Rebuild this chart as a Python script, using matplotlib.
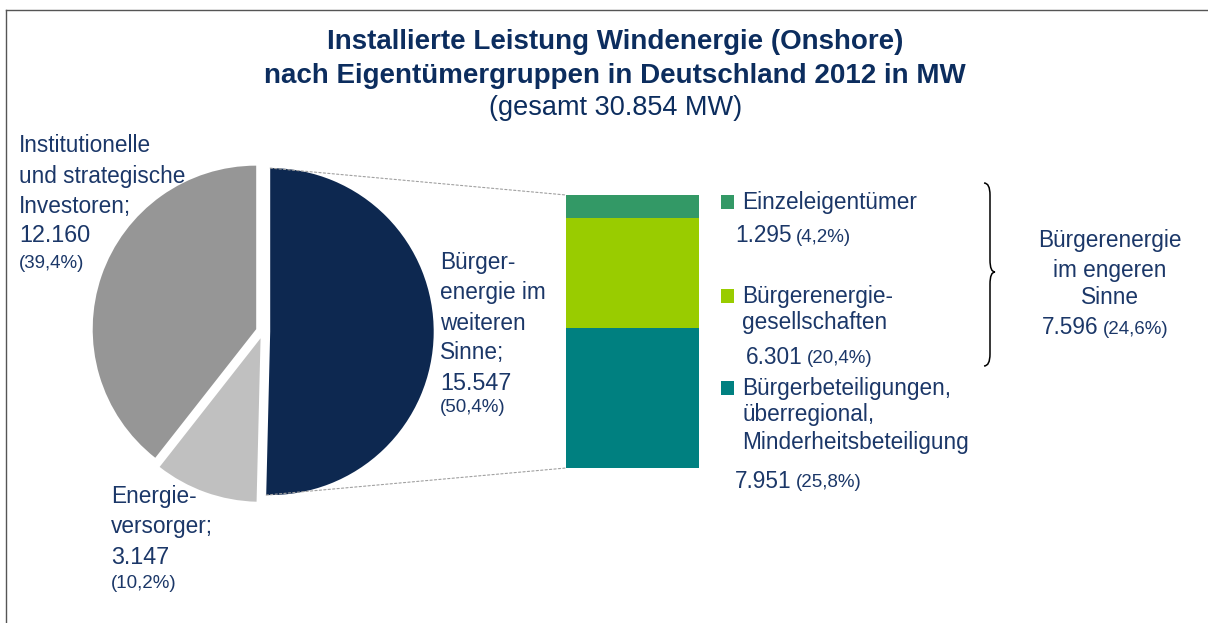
import matplotlib
matplotlib.use("Agg")
import matplotlib.pyplot as plt
from matplotlib.patches import ConnectionPatch, Rectangle, PathPatch
from matplotlib.path import Path
import numpy as np

plt.rcParams["font.family"] = ["Liberation Sans", "DejaVu Sans"]

# pie: owner groups (MW)
pie_labels = ["Bürgerenergie im weiteren Sinne", "Energieversorger",
              "Institutionelle und strategische Investoren"]
pie_values = [15547, 3147, 12160]
pie_pct = ["(50,4%)", "(10,2%)", "(39,4%)"]
pie_colors = ["#0d2850", "#c0c0c0", "#969696"]

# stacked bar: split of Bürgerenergie im weiteren Sinne (bottom -> top)
bar_labels = ["Bürgerbeteiligungen, überregional, Minderheitsbeteiligung",
              "Bürgerenergiegesellschaften", "Einzeleigentümer"]
bar_values = [7951, 6301, 1295]
bar_pct = ["(25,8%)", "(20,4%)", "(4,2%)"]
bar_colors = ["#008080", "#99cc00", "#339966"]

W, H = 1208, 623
TXT = "#1b3768"
TITLE = "#0c2d5e"
FS, NFS, PFS = 16.3, 16.8, 13.5

fig = plt.figure(figsize=(W / 100, H / 100), dpi=100)
bg = fig.add_axes([0, 0, 1, 1])
bg.set_xlim(0, W)
bg.set_ylim(H, 0)
bg.axis("off")

# frame (cut at right/bottom like the screenshot)
bg.plot([6, W], [10, 10], color="#555555", lw=1.0)
bg.plot([6, 6], [10, H], color="#555555", lw=1.0)

# title
bg.text(615, 42, "Installierte Leistung Windenergie (Onshore)", ha="center", va="center",
        fontsize=20, fontweight="bold", color=TITLE)
bg.text(615, 76, "nach Eigentümergruppen in Deutschland 2012 in MW", ha="center", va="center",
        fontsize=20, fontweight="bold", color=TITLE)
bg.text(616, 108, "(gesamt 30.854 MW)", ha="center", va="center", fontsize=19.5, color=TITLE)

# pie (all slices pulled out a little, as in the original)
cx, cy, r, L = 263, 331.5, 163.5, 1.3
side = 2 * L * r
pax = fig.add_axes([(cx - side / 2) / W, (H - cy - side / 2) / H, side / W, side / H])
wedges, _ = pax.pie(pie_values, colors=pie_colors, startangle=90, counterclock=False,
                    explode=[0.044, 0.044, 0.044], wedgeprops=dict(linewidth=0))
pax.set_xlim(-L, L)
pax.set_ylim(-L, L)
pax.set_aspect("equal")

# bar
bax = fig.add_axes([566 / W, (H - 468) / H, 133 / W, 273 / H])
bottom = 0
for v, c in zip(bar_values, bar_colors):
    bax.bar(0, v, bottom=bottom, width=1.0, color=c, linewidth=0)
    bottom += v
bax.set_xlim(-0.5, 0.5)
bax.set_ylim(0, sum(bar_values))
bax.axis("off")

# connector lines from the big wedge to the bar
w0 = wedges[0]
wc = np.array(w0.center)
top_pt = wc + w0.r * np.array([np.cos(np.radians(w0.theta2)), np.sin(np.radians(w0.theta2))])
bot_pt = wc + w0.r * np.array([np.cos(np.radians(w0.theta1)), np.sin(np.radians(w0.theta1))])
for p, q in [(top_pt, (-0.5, sum(bar_values))), (bot_pt, (-0.5, 0))]:
    con = ConnectionPatch(xyA=p, coordsA=pax.transData, xyB=q, coordsB=bax.transData,
                          color="#a0a0a0", lw=0.8, linestyle=(0, (2, 2)))
    fig.add_artist(con)


def lines(x, ys, texts, size=FS, ha="left"):
    for y, t in zip(ys, texts):
        bg.text(x, y, t, ha=ha, va="center", fontsize=size, color=TXT)


def number(x, y, num, pct, size=FS, psize=PFS):
    t = bg.text(x, y, num, va="center", fontsize=size, color=TXT)
    bg.annotate(pct, xy=(1, 0), xycoords=t, xytext=(3, 1), textcoords="offset points",
                ha="left", va="bottom", fontsize=psize, color=TXT)


# pie labels
lines(19, [146, 176, 206], ["Institutionelle", "und strategische", "Investoren;"])
lines(19, [236], ["12.160"], size=NFS)
lines(19, [263], [pie_pct[2]], size=PFS)

lines(440, [263, 293, 323, 353], ["Bürger-", "energie im", "weiteren", "Sinne;"])
lines(440, [383], ["15.547"], size=NFS)
lines(440, [408], [pie_pct[0]], size=PFS)

lines(111, [497, 527], ["Energie-", "versorger;"])
lines(111, [557], ["3.147"], size=NFS)
lines(111, [583], [pie_pct[1]], size=PFS)

# legend-like labels for bar
for y, c in zip([388, 296, 202], bar_colors):
    bg.add_patch(Rectangle((721, y - 7), 13, 14, color=c, lw=0))

lines(742, [202], ["Einzeleigentümer"])
number(735, 236, "1.295", bar_pct[2])
lines(742, [296, 323], ["Bürgerenergie-", "gesellschaften"])
number(746, 357, "6.301", bar_pct[1])
lines(742, [388, 414, 443], ["Bürgerbeteiligungen,", "überregional,", "Minderheitsbeteiligung"])
number(735, 481, "7.951", bar_pct[0])

# brace
verts = [(984, 183), (990, 183), (990, 195),
         (990, 260),
         (990, 272), (995, 272),
         (990, 272), (990, 284),
         (990, 354),
         (990, 366), (984, 366)]
codes = [Path.MOVETO, Path.CURVE3, Path.CURVE3, Path.LINETO, Path.CURVE3, Path.CURVE3,
         Path.CURVE3, Path.CURVE3, Path.LINETO, Path.CURVE3, Path.CURVE3]
bg.add_patch(PathPatch(Path(verts, codes), fill=False, color="black", lw=1.1))

lines(1110, [240, 270, 298], ["Bürgerenergie", "im engeren", "Sinne"], ha="center")
number(1042, 328, "7.596", "(24,6%)")

fig.savefig("out.png", dpi=100)
